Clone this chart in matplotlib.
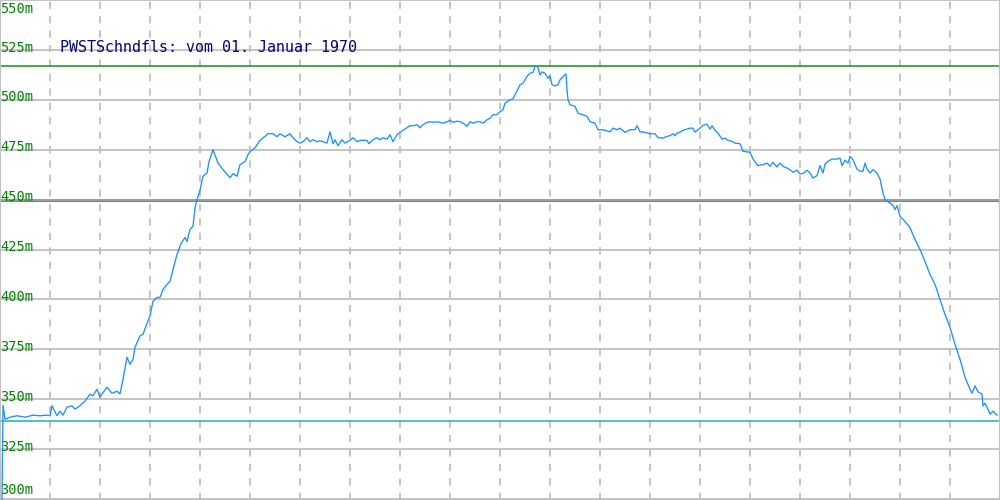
import matplotlib
matplotlib.use("Agg")
import matplotlib.pyplot as plt

# Chart data: sample position (time axis) and altitude in metres
pos = [2, 3, 5, 10, 17, 25, 33, 40, 46, 50, 52, 57, 60, 63, 67, 72, 75, 80, 85, 90,
       93, 97, 100, 103, 107, 112, 117, 120, 123, 127, 130, 133, 135, 140, 143, 147,
       150, 153, 157, 160, 163, 167, 170, 173, 177, 181, 185, 187, 190, 193, 195, 197,
       200, 203, 207, 209, 213, 218, 223, 230, 233, 237, 240, 245, 248, 250, 255, 260,
       265, 268, 273, 277, 280, 285, 290, 293, 297, 300, 303, 307, 310, 313, 317, 320,
       323, 327, 330, 333, 335, 338, 342, 345, 350, 353, 357, 360, 363, 367, 369, 373,
       377, 380, 383, 387, 390, 393, 397, 400, 403, 407, 410, 413, 417, 420, 423, 427,
       430, 433, 437, 440, 443, 447, 450, 453, 457, 460, 463, 467, 470, 473, 477, 480,
       483, 487, 490, 493, 497, 500, 503, 505, 510, 513, 517, 520, 523, 527, 530, 533,
       535, 537, 538, 540, 542, 545, 548, 550, 552, 555, 558, 560, 563, 566, 567, 568,
       570, 575, 578, 583, 587, 590, 595, 598, 603, 610, 613, 617, 620, 625, 630, 635,
       637, 640, 645, 650, 655, 658, 663, 667, 670, 673, 675, 677, 680, 683, 687, 690,
       693, 695, 700, 703, 707, 710, 712, 715, 718, 722, 725, 728, 732, 735, 740, 743,
       750, 753, 758, 763, 767, 770, 773, 777, 780, 783, 787, 790, 793, 797, 800, 803,
       807, 810, 813, 817, 820, 823, 825, 828, 832, 837, 840, 842, 845, 848, 850, 853,
       857, 860, 863, 865, 867, 870, 873, 877, 880, 883, 885, 887, 890, 893, 895, 897,
       900, 905, 910, 915, 920, 925, 930, 935, 940, 945, 950, 955, 960, 965, 970, 972,
       975, 978, 982, 983, 985, 987, 990, 993, 997]
alt = [300, 347, 340, 341, 341.7, 341, 342, 341.7, 342, 341.7, 346.7, 341.7, 344, 342,
       346, 346.7, 345, 346.7, 349, 352.5, 351.7, 355, 351, 353.3, 356, 353, 354, 352.7,
       360, 371, 367.5, 370, 376, 381.7, 382.5, 388, 391.7, 399, 401, 401, 405, 407.5,
       409, 415, 422.5, 428, 431, 429, 435, 436.7, 446, 450, 454.7, 461.7, 463.3, 469,
       475, 468.3, 465, 461, 463, 461.7, 467.5, 469, 472.5, 474, 476, 479.7, 481.7, 483,
       483, 481.5, 483, 481.5, 483, 481, 479, 478.3, 479, 481, 479, 480, 479, 479.5,
       479, 478.3, 484, 478, 480, 477, 480, 478.3, 479.7, 481, 479, 479.7, 479.7, 479.7,
       478, 480, 481, 480, 481, 480.3, 482.5, 479, 482.5, 483.7, 484.7, 486, 487, 487,
       487.5, 486, 487.5, 488.7, 489, 488.7, 489, 488.7, 488.3, 489, 489.7, 488.7, 489.3,
       489, 488.3, 486.7, 489, 488.3, 489, 489, 488.3, 490, 490.8, 492.5, 492.5, 494,
       495, 498.3, 500, 500.5, 504.5, 507.5, 508.3, 511.7, 513.3, 513.7, 516.7, 517,
       516, 512.5, 514, 513.3, 510.8, 512, 507.5, 507, 507.5, 510, 511.7, 513, 505, 500,
       497.5, 496.7, 493.3, 492.5, 491.7, 489, 488.3, 485, 485, 484, 485.8, 485, 485.8,
       483.7, 485, 485, 487, 484, 483.7, 483, 483, 481, 480.8, 481.7, 482, 483, 482,
       483.3, 483.8, 484.7, 485.3, 485.8, 485.8, 483.8, 485.8, 487.2, 487.8, 485.3, 487,
       484.7, 483.3, 480.3, 480.8, 479.7, 479.2, 478.3, 478, 474.2, 473.7, 470.3, 467,
       467.5, 468.3, 466.7, 468.7, 466.3, 468.3, 466.7, 465.8, 465, 463.7, 464.7, 463,
       463, 464.7, 463.3, 460.8, 462, 467, 463.3, 467.8, 469.2, 470.3, 470.3, 470.8,
       467, 469.7, 468.3, 471.7, 470, 465.3, 464.2, 464.2, 468.3, 465.3, 463.3, 465,
       463.3, 460.3, 453.3, 450, 449.2, 448.3, 447, 445, 447, 441.7, 439, 436, 430, 425,
       419, 412.5, 407.5, 400, 392.5, 386, 377.5, 370, 361, 355, 353, 356.7, 353.7,
       352.5, 346.7, 348, 346, 342.5, 344, 342]

# Reference lines (max, mean, min)
ref_max = 517
ref_mean = 449.5
ref_min = 339

y_ticks = [300, 325, 350, 375, 400, 425, 450, 475, 500, 525, 550]
y_labels = ["300m", "325m", "350m", "375m", "400m", "425m", "450m", "475m",
            "500m", "525m", "550m"]
x_grid = list(range(50, 1000, 50))
title = "PWSTSchndfls: vom 01. Januar 1970"

fig = plt.figure(figsize=(10, 5), dpi=100)
ax = fig.add_axes([0, 0, 1, 1])
ax.set_xlim(0, 1000)
ax.set_ylim(299.5, 550)

grid_c = "#c0c0c0"
for yv in y_ticks:
    ax.axhline(yv, color=grid_c, lw=1.3, zorder=1)
ax.axhline(450, color="#9a9a9a", lw=1.3, zorder=1)
for xv in x_grid:
    ax.axvline(xv, color=grid_c, lw=1.3, ls=(0, (4, 4)), zorder=1)

ax.axhline(ref_max, color="#1a8c1a", lw=1.1, zorder=2)
ax.axhline(ref_mean, color="#5a9a6a", lw=0.8, zorder=2)
ax.axhline(ref_min, color="#20b2aa", lw=1.1, zorder=2)

ax.plot(pos, alt, color="#1e90ff", lw=0.95, zorder=3)

for yv, lab in zip(y_ticks, y_labels):
    ypos = min(max(yv + 1.2, 304.5), 545.5)
    ax.text(0.5, ypos, lab, color="#008000", fontsize=9.8,
            family="DejaVu Sans Mono", ha="left", va="center", zorder=4)

ax.text(60, 526, title, color="#000080", fontsize=10.8,
        family="DejaVu Sans Mono", ha="left", va="center", zorder=4)

ax.set_xticks([])
ax.set_yticks([])
for side in ["left", "bottom", "right"]:
    ax.spines[side].set_color(grid_c)
    ax.spines[side].set_linewidth(1.5)
ax.spines["top"].set_visible(False)

fig.savefig("out.png", dpi=100)
